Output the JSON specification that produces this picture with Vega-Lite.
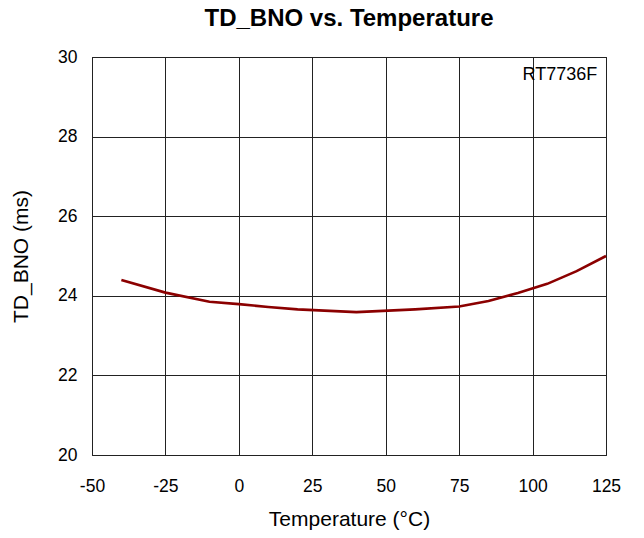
{
  "$schema": "https://vega.github.io/schema/vega-lite/v6.json",
  "width": 514,
  "height": 398,
  "autosize": {"type": "none"},
  "padding": {"left": 92, "top": 57, "right": 38, "bottom": 83},
  "background": "white",
  "title": {
    "text": "TD_BNO vs. Temperature",
    "font": "Liberation Sans",
    "fontSize": 24,
    "fontWeight": "bold",
    "color": "black",
    "anchor": "middle",
    "offset": 17
  },
  "config": {
    "view": {"stroke": "black", "strokeWidth": 1},
    "axis": {
      "labelFont": "Liberation Sans",
      "titleFont": "Liberation Sans",
      "labelFontSize": 17.5,
      "titleFontSize": 21,
      "titleFontWeight": "normal",
      "labelColor": "black",
      "titleColor": "black",
      "gridColor": "#222222",
      "gridOpacity": 1,
      "gridWidth": 1,
      "domain": false,
      "ticks": false,
      "labelExpr": "replace(datum.label, '−', '-')"
    }
  },
  "datasets": {
    "curve": [
      {"temp": -40, "t": 24.4},
      {"temp": -25, "t": 24.08},
      {"temp": -10, "t": 23.85},
      {"temp": 0, "t": 23.79},
      {"temp": 10, "t": 23.72},
      {"temp": 20, "t": 23.66},
      {"temp": 40, "t": 23.59},
      {"temp": 60, "t": 23.66},
      {"temp": 75, "t": 23.73},
      {"temp": 85, "t": 23.87},
      {"temp": 95, "t": 24.07},
      {"temp": 105, "t": 24.3},
      {"temp": 115, "t": 24.62},
      {"temp": 125, "t": 25.0}
    ],
    "label": [
      {"temp": 122, "t": 29.55, "name": "RT7736F"}
    ]
  },
  "layer": [
    {
      "data": {"name": "curve"},
      "mark": {"type": "line", "color": "#8B0000", "strokeWidth": 2.6},
      "encoding": {
        "x": {
          "field": "temp",
          "type": "quantitative",
          "scale": {"domain": [-50, 125], "nice": false},
          "axis": {"values": [-50, -25, 0, 25, 50, 75, 100, 125], "title": "Temperature (°C)", "labelPadding": 22, "titlePadding": 14, "labelFlush": false}
        },
        "y": {
          "field": "t",
          "type": "quantitative",
          "scale": {"domain": [20, 30], "nice": false, "zero": false},
          "axis": {"values": [20, 22, 24, 26, 28, 30], "title": "TD_BNO (ms)", "labelPadding": 15, "titlePadding": 26, "labelFlush": false}
        }
      }
    },
    {
      "data": {"name": "label"},
      "mark": {"type": "text", "font": "Liberation Sans", "fontSize": 18, "align": "right", "baseline": "middle", "color": "black"},
      "encoding": {
        "x": {"field": "temp", "type": "quantitative"},
        "y": {"field": "t", "type": "quantitative"},
        "text": {"field": "name"}
      }
    }
  ]
}
